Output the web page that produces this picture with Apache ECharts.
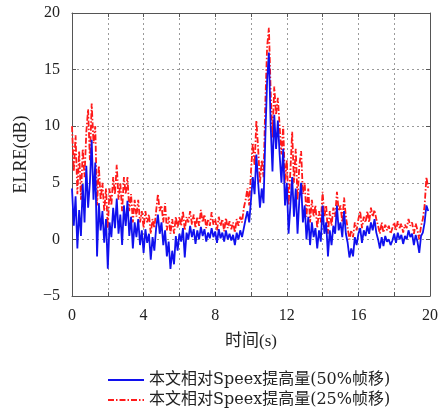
<!DOCTYPE html>
<html><head><meta charset="utf-8">
<script src="https://cdn.jsdelivr.net/npm/echarts@6/dist/echarts.min.js"></script>
<style>html,body{margin:0;padding:0;background:#fff}#c{width:441px;height:412px}</style>
</head><body><div id="c"></div>
<script>
// sample times: 0.0 .. 19.9 s, every 0.1 s
const timeStep = 0.1;
const seriesNames = ['本文相对Speex提高量(50%帧移)', '本文相对Speex提高量(25%帧移)'];
const xTicks = [0, 4, 8, 12, 16, 20];
const yTicks = [-5, 0, 5, 10, 15, 20];
const blue50 = [
 4.5,1.2,3.8,-0.8,2.6,0.3,4.9,1.5,6.5,2.8,
 5.0,8.8,3.5,6.8,-1.5,3.2,0.8,2.5,-0.3,1.8,
 -2.6,1.5,0.2,2.8,1.0,3.6,0.5,2.2,-0.5,3.0,
 1.2,3.4,0.3,2.0,-0.8,1.5,0.2,1.8,-0.5,0.8,
 -1.2,0.9,-0.3,0.5,-1.8,0.2,-1.0,1.0,2.2,0.5,
 1.5,-0.5,0.8,-1.5,-0.2,-2.6,-1.0,-2.2,0.3,-1.0,
 0.5,-0.2,1.0,-1.6,0.6,0.0,1.2,0.2,0.9,-0.4,
 0.8,0.0,1.1,0.3,0.9,-0.2,0.6,0.1,1.0,0.2,
 0.7,-0.3,0.9,0.1,0.6,-0.2,0.8,0.0,0.5,-0.1,
 0.4,-0.5,0.6,0.0,0.8,0.2,1.0,1.8,2.5,1.5,
 3.5,5.5,4.0,7.5,5.0,2.8,4.5,3.2,9.0,14.0,
 16.5,10.0,6.0,11.0,8.0,10.5,7.5,5.0,8.0,3.0,
 5.0,0.5,3.0,5.5,2.0,4.5,0.5,3.5,5.0,1.5,
 3.0,0.0,2.0,-0.5,1.5,0.2,1.0,-0.8,0.8,-0.2,
 3.0,0.5,1.5,-1.5,0.8,-0.5,1.2,0.5,3.0,0.8,
 1.5,0.2,2.5,0.5,-0.3,-1.6,-0.8,-1.5,0.2,-0.5,
 0.5,1.0,-0.3,0.8,0.3,1.2,0.5,1.5,0.8,1.8,
 0.6,0.0,-0.8,0.2,-0.6,0.3,-0.2,0.0,-0.5,-0.1,
 0.5,-0.3,0.6,0.0,0.4,-0.4,0.3,0.0,0.8,0.2,
 0.5,-0.5,0.4,-0.2,-1.2,0.3,0.6,1.5,3.0,2.5
];
const red25 = [
 10.0,6.0,9.2,4.0,7.8,3.5,8.0,5.5,9.5,11.5,
 7.0,12.0,8.5,10.0,3.0,6.5,3.5,5.0,2.5,4.5,
 1.0,4.5,3.0,5.5,4.0,6.6,3.5,5.0,2.5,5.5,
 4.0,5.5,2.5,4.0,1.5,3.5,2.0,3.5,1.5,2.5,
 1.0,2.5,1.5,2.2,0.5,1.8,1.0,2.5,4.0,2.5,
 3.0,1.5,3.2,0.8,2.0,0.5,1.8,0.5,2.0,1.0,
 2.0,1.2,2.5,0.8,2.0,1.5,2.5,1.3,2.2,1.0,
 2.0,1.2,2.6,1.5,2.2,1.0,1.8,1.2,2.4,1.3,
 1.8,0.8,2.0,1.2,1.8,0.7,1.9,1.0,1.6,0.9,
 1.5,0.6,1.8,1.2,2.0,1.5,2.8,3.5,4.5,3.0,
 6.0,8.5,6.5,10.5,8.0,5.0,7.0,5.5,12.0,17.0,
 18.7,13.0,9.0,13.5,11.0,12.5,10.0,7.5,10.0,5.0,
 7.0,3.0,6.0,9.5,5.0,8.0,3.5,6.5,7.8,4.0,
 5.0,2.0,4.5,1.5,3.5,2.0,3.0,1.0,2.5,1.5,
 4.2,2.0,3.0,0.5,2.5,1.2,2.8,2.0,4.2,2.5,
 3.0,1.5,3.7,2.0,1.0,0.0,0.8,0.2,1.5,0.8,
 1.8,2.5,1.0,2.0,1.5,2.5,1.5,2.8,2.0,2.6,
 1.8,1.2,0.5,1.5,0.6,1.3,0.8,1.2,0.5,1.0,
 1.5,0.8,1.6,1.0,1.4,0.6,1.3,1.0,1.8,1.2,
 1.5,0.5,1.4,0.8,0.0,1.2,1.8,3.0,5.5,4.5
];
const toPairs = arr => arr.map((v, i) => [+(i * timeStep).toFixed(1), v]);
const font = "'Liberation Serif','Noto Sans CJK SC',serif";
const wideFont = "'DejaVu Serif','Noto Sans CJK SC',serif";
const fmtY = v => v < 0 ? '\u2212' + Math.abs(v) : String(v);
const chart = echarts.init(document.getElementById('c'), null, {renderer: 'canvas'});
const gridLine = {show: true, lineStyle: {type: [2, 3], color: '#9a9a9a', width: 1}};
const legendText = {fontFamily: wideFont, fontSize: 16, color: '#222'};
const legendCommon = {left: 102, itemWidth: 36, itemHeight: 12, itemGap: 10,
  textStyle: legendText, itemStyle: {opacity: 0}};
chart.setOption({
  animation: false,
  backgroundColor: '#fff',
  grid: {left: 72, right: 8, top: 13, bottom: 116, containLabel: false},
  legend: [
    Object.assign({top: 367, data: [seriesNames[0]]}, legendCommon),
    Object.assign({top: 387, data: [seriesNames[1]]}, legendCommon)
  ],
  xAxis: [{
    type: 'value', min: 0, max: 20, interval: 2,
    name: '时间(s)', nameLocation: 'middle', nameGap: 37,
    nameTextStyle: {fontFamily: font, fontSize: 17, color: '#222'},
    axisLine: {show: true, onZero: false, lineStyle: {color: '#555', width: 1}},
    axisTick: {show: true, inside: true, length: 4, lineStyle: {color: '#555'}},
    axisLabel: {fontFamily: font, fontSize: 16, color: '#222', margin: 12,
      formatter: v => xTicks.includes(v) ? String(v) : ''},
    splitLine: gridLine
  }, {
    type: 'value', min: 0, max: 20, interval: 2, position: 'top',
    axisLine: {show: true, onZero: false, lineStyle: {color: '#555', width: 1}},
    axisTick: {show: true, inside: true, length: 4, lineStyle: {color: '#555'}},
    axisLabel: {show: false}, splitLine: {show: false}
  }],
  yAxis: [{
    type: 'value', min: -5, max: 20, interval: 5,
    name: 'ELRE(dB)', nameLocation: 'middle', nameGap: 42, nameRotate: 90,
    nameTextStyle: {fontFamily: font, fontSize: 18, color: '#222'},
    axisLine: {show: true, onZero: false, lineStyle: {color: '#555', width: 1}},
    axisTick: {show: true, inside: true, length: 4, lineStyle: {color: '#555'}},
    axisLabel: {fontFamily: font, fontSize: 16, color: '#222', margin: 12,
      formatter: v => yTicks.includes(v) ? fmtY(v) : ''},
    splitLine: gridLine
  }, {
    type: 'value', min: -5, max: 20, interval: 5, position: 'right',
    axisLine: {show: true, onZero: false, lineStyle: {color: '#555', width: 1}},
    axisTick: {show: true, inside: true, length: 4, lineStyle: {color: '#555'}},
    axisLabel: {show: false}, splitLine: {show: false}
  }],
  series: [{
    name: seriesNames[1], type: 'line', data: toPairs(red25), symbol: 'none',
    lineStyle: {color: '#ff1a1a', width: 1.8, type: [6, 2, 1.5, 2]},
    itemStyle: {color: '#ff1a1a'}, z: 2
  }, {
    name: seriesNames[0], type: 'line', data: toPairs(blue50), symbol: 'none',
    lineStyle: {color: '#1010ee', width: 1.8},
    itemStyle: {color: '#1010ee'}, z: 3
  }]
});
</script></body></html>
